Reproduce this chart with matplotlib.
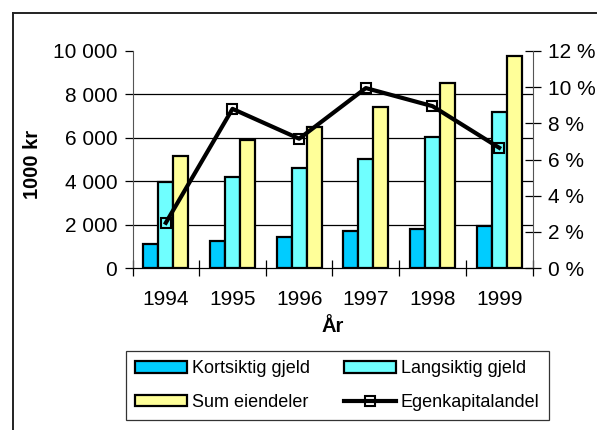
import numpy as np
import matplotlib
matplotlib.use("Agg")
from matplotlib import pyplot as plt
from matplotlib.lines import Line2D
from matplotlib.ticker import FuncFormatter

plt.rcParams['font.family'] = ['Liberation Sans', 'DejaVu Sans']

# data
years = ["1994", "1995", "1996", "1997", "1998", "1999"]
kortsiktig = [1120, 1250, 1420, 1690, 1780, 1950]
langsiktig = [3970, 4180, 4630, 5020, 6030, 7170]
eiendeler = [5180, 5910, 6480, 7420, 8540, 9780]
egenkapital = [2.5, 8.8, 7.15, 9.95, 8.95, 6.65]
yticks_left = [0, 2000, 4000, 6000, 8000, 10000]
yticks_right = [0, 2, 4, 6, 8, 10, 12]

fig = plt.figure(figsize=(5.97, 4.30), dpi=100)

# outer chart frame, only its left and top edges fall inside the picture
fx = 12.5 / 597
fy = 1 - 12.5 / 430
fig.add_artist(Line2D([fx, fx], [0, fy], transform=fig.transFigure, color="#222222", linewidth=1.4))
fig.add_artist(Line2D([fx, 0.999], [fy, fy], transform=fig.transFigure, color="#222222", linewidth=1.4))

ax = fig.add_axes([132.5 / 597, 162 / 430, 400 / 597, 217 / 430])
ax2 = ax.twinx()

x = np.arange(len(years))
w = 0.225
b1 = ax.bar(x - w, kortsiktig, w, color="#00CCFF", edgecolor="black", linewidth=1.6, label="Kortsiktig gjeld")
b2 = ax.bar(x, langsiktig, w, color="#6FFFFF", edgecolor="black", linewidth=1.6, label="Langsiktig gjeld")
b3 = ax.bar(x + w, eiendeler, w, color="#FFFF99", edgecolor="black", linewidth=1.6, label="Sum eiendeler")

ln, = ax2.plot(x, egenkapital, color="black", linewidth=3.0, marker="s", markersize=7.5,
               markerfacecolor="none", markeredgecolor="black", markeredgewidth=1.5,
               label="Egenkapitalandel")

ax.set_xlim(-0.5, len(years) - 0.5)
ax.set_ylim(0, 10000)
ax2.set_ylim(0, 12)

ax.set_yticks(yticks_left)
ax.yaxis.set_major_formatter(FuncFormatter(lambda v, p: f"{int(v):,}".replace(",", " ")))
ax2.set_yticks(yticks_right)
ax2.yaxis.set_major_formatter(FuncFormatter(lambda v, p: f"{int(v)} %"))

ax.set_xticks(x)
ax.set_xticklabels(years)
ax.set_xticks(np.arange(-0.5, len(years)), minor=True)
ax.tick_params(axis="x", which="major", length=0, pad=15.5, labelsize=15)
ax.tick_params(axis="x", which="minor", direction="inout", length=12, width=0.9)
ax.tick_params(axis="y", direction="out", length=6, width=0.9, pad=5, labelsize=15)
ax2.tick_params(axis="y", direction="inout", length=12, width=0.9, pad=5, labelsize=15)

ax.set_axisbelow(True)
ax.grid(axis="y", color="black", linewidth=0.9)
ax.get_ygridlines()[-1].set_visible(False)
ax.get_ygridlines()[0].set_visible(False)

for a in (ax, ax2):
    a.spines["top"].set_visible(False)
ax.spines["right"].set_visible(False)
ax.spines["left"].set_color("#555555")
ax2.spines["left"].set_visible(False)
ax2.spines["right"].set_color("#555555")
ax.spines["bottom"].set_color("black")

ax.set_xlabel("År", fontsize=14.5, fontweight="bold", labelpad=6)
ax.set_ylabel("1000 kr", fontsize=14.5, fontweight="bold")
ax.yaxis.set_label_coords(-0.226, 0.475)

leg = fig.legend([b1, b3, b2, ln],
                 ["Kortsiktig gjeld", "Sum eiendeler", "Langsiktig gjeld", "Egenkapitalandel"],
                 ncol=2, loc="center", bbox_to_anchor=(337.5 / 597, 1 - 385.5 / 430),
                 fontsize=13, frameon=True, fancybox=False, edgecolor="black",
                 handlelength=2.88, handleheight=0.6, handletextpad=0.28,
                 columnspacing=1.85, labelspacing=0.9, borderpad=0.5)
leg.get_frame().set_linewidth(0.9)

fig.savefig("out.png", dpi=100)
